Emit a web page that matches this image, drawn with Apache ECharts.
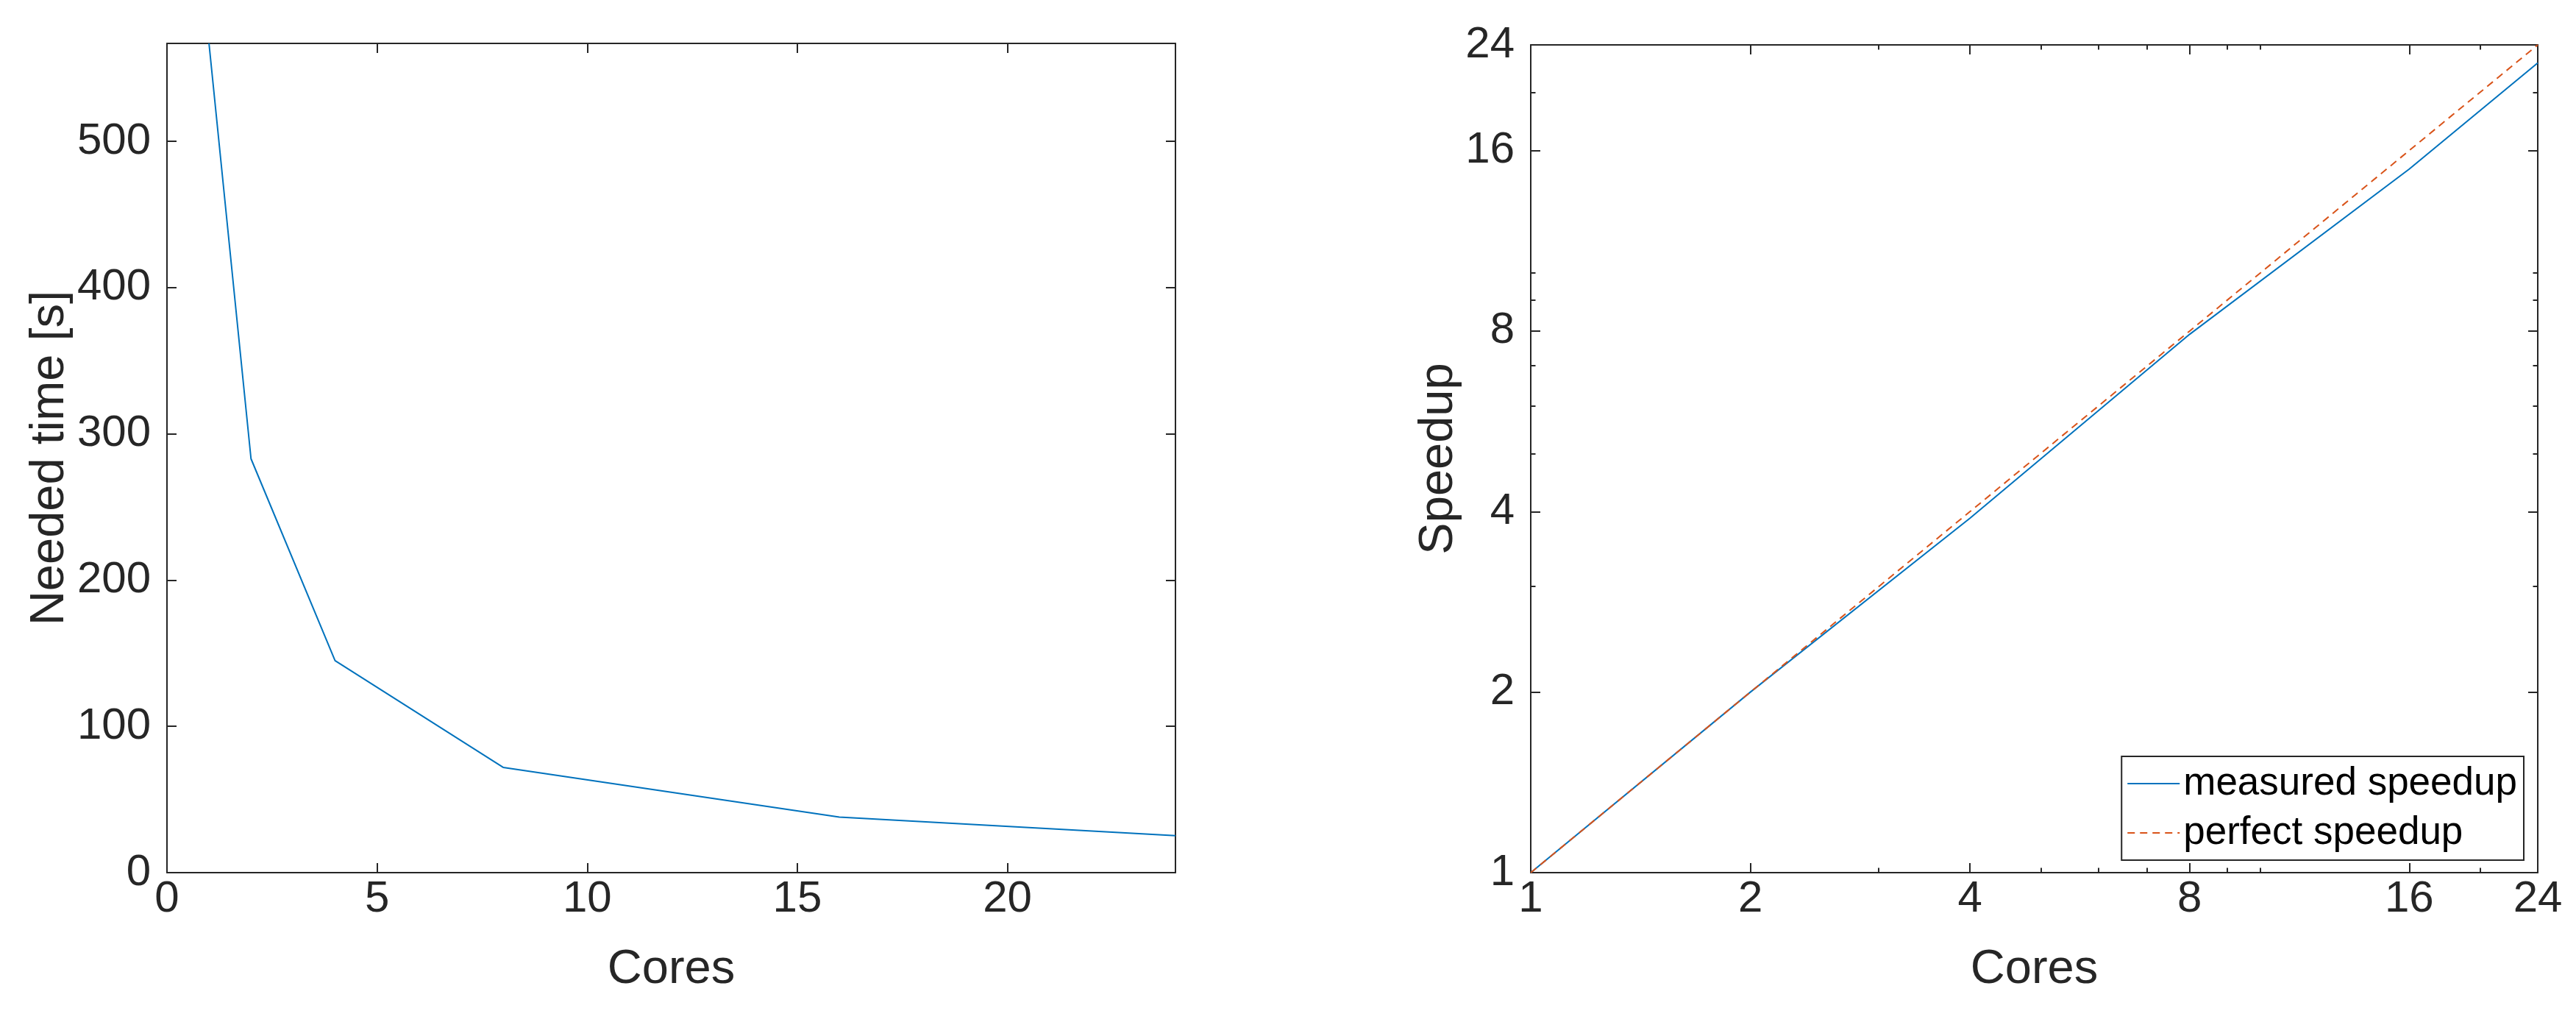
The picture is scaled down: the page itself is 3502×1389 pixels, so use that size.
<!DOCTYPE html>
<html>
<head>
<meta charset="utf-8">
<style>
  html, body { margin: 0; padding: 0; background: #fff; }
  #chart { width: 3502px; height: 1389px; }
</style>
<script src="https://cdn.jsdelivr.net/npm/echarts@6/dist/echarts.min.js"></script>
</head>
<body>
<div id="chart"></div>
<script>
// ---- data ----
const cores = [1, 2, 4, 8, 16, 24];
const neededTime = [567, 283, 145, 72, 38, 25.3];
const measuredSpeedup = [1, 2.0, 3.9, 7.9, 14.9, 22.4];
const perfectSpeedup = [1, 2, 4, 8, 16, 24];
const timeTicksMax = 567;
const logMinorTicks = [3, 5, 6, 7, 9, 10, 20];

const FONT = "'Liberation Sans', Arial, Helvetica, sans-serif";
const AX = '#262626';
const BLUE = '#0072BD';
const ORANGE = '#D95319';

function pairs(xs, ys) { return xs.map((x, i) => [x, ys[i]]); }

const axisLineStyle = { show: true, onZero: false, lineStyle: { color: AX, width: 2 } };
const labelStyle = { color: AX, fontSize: 60, fontFamily: FONT };
const nameStyle = { color: AX, fontSize: 65, fontFamily: FONT };

function tick(len, extra) {
  return Object.assign({ show: true, inside: true, length: len, lineStyle: { color: AX, width: 2 } }, extra || {});
}

const chart = echarts.init(document.getElementById('chart'), null, { renderer: 'canvas' });

const option = {
  animation: false,
  backgroundColor: '#ffffff',
  grid: [
    { left: 227, right: 1904, top: 59, bottom: 203, containLabel: false },
    { left: 2081, right: 52, top: 61, bottom: 203, containLabel: false }
  ],
  legend: {
    show: true,
    orient: 'vertical',
    right: 71,
    bottom: 220,
    data: ['measured speedup', 'perfect speedup'],
    itemWidth: 71,
    itemHeight: 20,
    itemGap: 7,
    padding: [7, 9, 7, 7],
    borderColor: AX,
    borderWidth: 2,
    borderRadius: 0,
    backgroundColor: '#ffffff',
    itemStyle: { opacity: 0 },
    textStyle: { color: '#000', fontSize: 53, fontFamily: FONT, lineHeight: 60 }
  },
  xAxis: [
    // left plot
    { gridIndex: 0, type: 'value', position: 'bottom', min: 0, max: 24, interval: 5,
      name: 'Cores', nameLocation: 'middle', nameGap: 100, nameTextStyle: nameStyle,
      axisLine: axisLineStyle, axisTick: tick(13),
      axisLabel: Object.assign({ margin: 6, showMaxLabel: false }, labelStyle),
      splitLine: { show: false } },
    { gridIndex: 0, type: 'value', position: 'top', min: 0, max: 24, interval: 5,
      axisLine: axisLineStyle, axisTick: tick(13), axisLabel: { show: false }, splitLine: { show: false } },
    // right plot
    { gridIndex: 1, type: 'log', logBase: 2, position: 'bottom', min: 1, max: 24,
      name: 'Cores', nameLocation: 'middle', nameGap: 100, nameTextStyle: nameStyle,
      axisLine: axisLineStyle, axisTick: tick(13),
      axisLabel: Object.assign({ margin: 6 }, labelStyle),
      splitLine: { show: false }, minorTick: { show: false } },
    { gridIndex: 1, type: 'log', logBase: 2, position: 'bottom', min: 1, max: 24,
      axisLine: { show: false }, axisTick: tick(6.5, { customValues: logMinorTicks }),
      axisLabel: { show: false }, splitLine: { show: false } },
    { gridIndex: 1, type: 'log', logBase: 2, position: 'top', min: 1, max: 24,
      axisLine: axisLineStyle, axisTick: tick(13), axisLabel: { show: false }, splitLine: { show: false } },
    { gridIndex: 1, type: 'log', logBase: 2, position: 'top', min: 1, max: 24,
      axisLine: { show: false }, axisTick: tick(6.5, { customValues: logMinorTicks }),
      axisLabel: { show: false }, splitLine: { show: false } }
  ],
  yAxis: [
    // left plot
    { gridIndex: 0, type: 'value', position: 'left', min: 0, max: timeTicksMax, interval: 100,
      name: 'Needed time [s]', nameLocation: 'middle', nameGap: 125, nameRotate: 90, nameTextStyle: nameStyle,
      axisLine: axisLineStyle, axisTick: tick(13),
      axisLabel: Object.assign({ margin: 22, showMaxLabel: false }, labelStyle),
      splitLine: { show: false } },
    { gridIndex: 0, type: 'value', position: 'right', min: 0, max: timeTicksMax, interval: 100,
      axisLine: axisLineStyle, axisTick: tick(13), axisLabel: { show: false }, splitLine: { show: false } },
    // right plot
    { gridIndex: 1, type: 'log', logBase: 2, position: 'left', min: 1, max: 24,
      name: 'Speedup', nameLocation: 'middle', nameGap: 88, nameRotate: 90, nameTextStyle: nameStyle,
      axisLine: axisLineStyle, axisTick: tick(13),
      axisLabel: Object.assign({ margin: 22 }, labelStyle),
      splitLine: { show: false }, minorTick: { show: false } },
    { gridIndex: 1, type: 'log', logBase: 2, position: 'left', min: 1, max: 24,
      axisLine: { show: false }, axisTick: tick(6.5, { customValues: logMinorTicks }),
      axisLabel: { show: false }, splitLine: { show: false } },
    { gridIndex: 1, type: 'log', logBase: 2, position: 'right', min: 1, max: 24,
      axisLine: axisLineStyle, axisTick: tick(13), axisLabel: { show: false }, splitLine: { show: false } },
    { gridIndex: 1, type: 'log', logBase: 2, position: 'right', min: 1, max: 24,
      axisLine: { show: false }, axisTick: tick(6.5, { customValues: logMinorTicks }),
      axisLabel: { show: false }, splitLine: { show: false } }
  ],
  series: [
    { name: 'time', type: 'line', xAxisIndex: 0, yAxisIndex: 0,
      data: pairs(cores, neededTime), symbol: 'none', clip: true,
      lineStyle: { color: BLUE, width: 2 }, itemStyle: { color: BLUE } },
    { name: 'measured speedup', type: 'line', xAxisIndex: 2, yAxisIndex: 2,
      data: pairs(cores, measuredSpeedup), symbol: 'none', clip: true,
      lineStyle: { color: BLUE, width: 2 }, itemStyle: { color: BLUE } },
    { name: 'perfect speedup', type: 'line', xAxisIndex: 2, yAxisIndex: 2,
      data: pairs(cores, perfectSpeedup), symbol: 'none', clip: true,
      lineStyle: { color: ORANGE, width: 2, type: [10, 7] }, itemStyle: { color: ORANGE } }
  ]
};

chart.setOption(option);
</script>
</body>
</html>
